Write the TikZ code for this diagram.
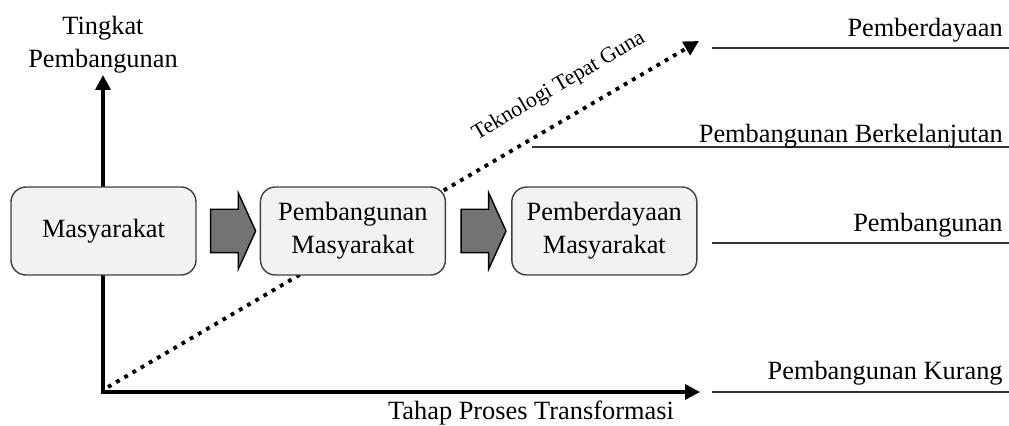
\documentclass[tikz,border=0pt]{standalone}
\usepackage{fontspec}
\setmainfont{Liberation Serif}
\usepackage{tikz}
\usetikzlibrary{positioning,shapes.arrows,arrows.meta,calc}

\begin{document}
\begin{tikzpicture}[>={Triangle[length=0.3cm,width=0.3cm]},every node/.style={font=\fontsize{15}{18.8}\selectfont},
  stage/.style={draw=black!75,line width=0.8pt,fill=black!5,rounded corners=0.3cm,minimum width=3.7cm,minimum height=1.76cm,align=center,inner sep=2pt},
  flow/.style={single arrow,draw=black,line width=0.8pt,fill=black!55,minimum height=0.9cm,inner xsep=0pt,inner ysep=0.42cm,single arrow head extend=0.33cm,single arrow tip angle=131},
  level/.style={anchor=base east,inner sep=0pt},
  levelline/.style={draw=black!80,line width=1pt}]
  \useasboundingbox (0,0) rectangle (20.18,8.52);

  % Axes of the diagram
  \coordinate (o) at (2.06,0.68);
  \coordinate (ytip) at (2.06,7.02);
  \coordinate (xtip) at (14.0,0.68);
  \node[align=center] (ylab) at (2.06,7.63) {Tingkat\\Pembangunan};
  \node[anchor=base] (xlab) at (10.62,0.12) {Tahap Proses Transformasi};
  \draw[<->,line width=2pt,line join=miter] (ytip) |- (xtip);

  % Dotted trend line
  \coordinate (d0) at (2.16,0.78);
  \coordinate (d1) at (13.98,7.70);
  \draw[->,line width=2.2pt,dash pattern=on 2.2pt off 3.2pt] (d0) -- node[pos=0.79,sloped,above=0.28cm,font=\fontsize{12.5}{15}\selectfont] (ttg) {Teknologi Tepat Guna} (d1);

  % Stages
  \node[stage] (masy) at (2.07,3.90) {Masyarakat};
  \node[stage,right=1.26cm of masy] (pemb) {Pembangunan\\Masyarakat};
  \node[stage,right=1.3cm of pemb] (pemd) {Pemberdayaan\\Masyarakat};
  \node[flow] (a1) at ($(masy.east)!0.5!(pemb.west)$) {};
  \node[flow] (a2) at ($(pemb.east)!0.5!(pemd.west)$) {};

  % Levels on the right
  \coordinate (l1) at (14.24,7.56);
  \coordinate (l2) at (10.64,5.58);
  \coordinate (l3) at (14.24,3.66);
  \coordinate (l4) at (14.24,0.68);
  \draw[levelline] (l1) -- (20.18,7.56);
  \draw[levelline] (l2) -- (20.18,5.58);
  \draw[levelline] (l3) -- (20.18,3.66);
  \draw[levelline] (l4) -- (20.18,0.68);
  \node[level] (lv1) at (20.06,7.78) {Pemberdayaan};
  \node[level] (lv2) at (20.06,5.67) {Pembangunan Berkelanjutan};
  \node[level] (lv3) at (20.06,3.88) {Pembangunan};
  \node[level] (lv4) at (20.06,0.92) {Pembangunan Kurang};
\end{tikzpicture}
\end{document}
